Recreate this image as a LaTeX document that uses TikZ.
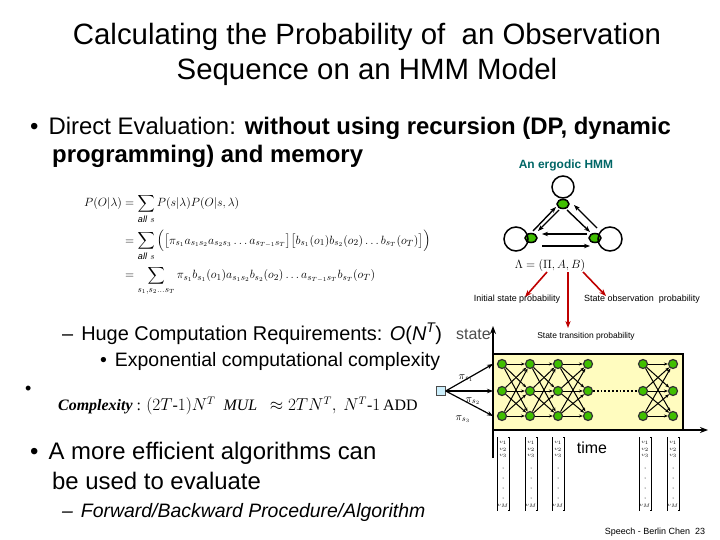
\documentclass[tikz,border=0pt]{standalone}
\usepackage{amsmath}
\usepackage{fontspec}
\setmainfont{Liberation Sans}
\newfontfamily\serf{Liberation Serif}
\usetikzlibrary{arrows.meta,shapes.geometric}
\begin{document}
\begin{tikzpicture}[x=1bp,y=-1bp,
  txt/.style={anchor=west,inner sep=0},
  st/.style={circle,fill=green!50!olive,draw=black!80,line width=1.2pt,minimum size=9bp,inner sep=0},
  hs/.style={ellipse,fill=green!50!olive,draw=black,line width=1.5pt,minimum width=12bp,minimum height=9bp,inner sep=0},
  red/.style={draw=red!75!black,line width=1.6pt,-{Stealth[length=7bp]}},
  tr/.style={line width=1pt,-{Stealth[length=4bp]}},
  small/.style={font=\fontsize{9}{10}\selectfont,inner sep=0}]
\useasboundingbox (0,0) rectangle (720,540);
\fill[white] (0,0) rectangle (720,540);
% title
\node[font=\fontsize{29.5}{32}\selectfont] (t1) at (367,37) {Calculating the Probability of\ \ an Observation};
\node[font=\fontsize{29.5}{32}\selectfont] (t2) at (367,72) {Sequence on an HMM Model};
% bullets
\node[txt,font=\fontsize{24}{26}\selectfont] (b1) at (30,128) {•\hspace{10bp}Direct Evaluation: \textbf{without using recursion (DP, dynamic}};
\node[txt,font=\fontsize{24}{26}\selectfont\bfseries] (b1b) at (52,156) {programming) and memory};
% formulas
\node[txt,font=\serf\fontsize{13}{14}\selectfont] (f) at (84,245) {$\begin{aligned}
P(O|\lambda)&=\sum_{\mathit{all}\ s}P(s|\lambda)P(O|s,\lambda)\\[3pt]
&=\sum_{\mathit{all}\ s}\Big(\big[\pi_{s_1}a_{s_1s_2}a_{s_2s_3}\ldots a_{s_{T-1}s_T}\big]\big[b_{s_1}(o_1)b_{s_2}(o_2)\ldots b_{s_T}(o_T)\big]\Big)\\[2pt]
&=\sum_{s_1,s_2\ldots s_T}\pi_{s_1}b_{s_1}(o_1)a_{s_1s_2}b_{s_2}(o_2)\ldots a_{s_{T-1}s_T}b_{s_T}(o_T)
\end{aligned}$};
% HMM
\node[font=\fontsize{12}{14}\selectfont\bfseries,text=teal!80!black] (erg) at (566,165) {An ergodic HMM};
\node[hs] (A) at (563,204) {};
\node[hs] (L) at (531,238) {};
\node[hs] (R) at (595,238) {};
\draw[line width=1.5pt] (563,187) circle (11);
\draw[line width=1.5pt] (516,239) circle (12);
\draw[line width=1.5pt] (610,239) circle (12);
\draw[line width=1.4pt,-{Stealth[length=6bp]}] (533,231) -- (556,207);
\draw[line width=1.4pt,-{Stealth[length=6bp]}] (559,210) -- (538,231);
\draw[line width=1.4pt,-{Stealth[length=6bp]}] (567,210) -- (590,232);
\draw[line width=1.4pt,-{Stealth[length=6bp]}] (597,228) -- (574,205);
\draw[line width=1.4pt,-{Stealth[length=6bp]}] (587,234) -- (542,234);
\draw[line width=1.4pt,-{Stealth[length=6bp]}] (542,246) -- (590,246);
\node[font=\fontsize{13}{14}\selectfont] (lam) at (550,266) {$\Lambda=(\Pi,A,B)$};
\coordinate (i1) at (525,297); \coordinate (i2) at (568,328); \coordinate (i3) at (606,296);
\draw[red] (547,272) -- (i1);
\draw[red] (568,272) -- (i2);
\draw[red] (583,272) -- (i3);
\node[small,anchor=north] (ip) at (517,295) {Initial state probability};
\node[small,anchor=north] (op) at (642,295) {State observation\ \ probability};
\node[small,font=\fontsize{8.5}{10}\selectfont,anchor=north] (tp) at (586,332) {State transition probability};
% huge computation
\node[txt,font=\fontsize{20}{22}\selectfont] (h1) at (62,334) {–\hspace{8bp}Huge Computation Requirements: \textit{O}(\textit{N}$^{\mathit{T}}$)};
\node[txt,font=\fontsize{19.5}{22}\selectfont] (h2) at (100,361) {•\hspace{8bp}Exponential computational complexity};
\node[txt,font=\fontsize{16}{18}\selectfont,text=black!70] (state) at (456,334) {state};
\node[txt,font=\fontsize{18}{20}\selectfont] (b2) at (25,390) {•};
\node[txt,font=\serf\fontsize{16}{18}\selectfont] (cx) at (58,406) {\textbf{\textit{Complexity}} : $(2T\text{-}1)N^T\ \ \textit{\serf MUL}\ \ \approx 2TN^T,\ N^T\text{-}1\,$ADD};
\node[txt,font=\fontsize{24}{26}\selectfont] (b3) at (30,453) {•\hspace{10bp}A more efficient algorithms can};
\node[txt,font=\fontsize{24}{26}\selectfont] (b3b) at (52,481) {be used to evaluate};
\node[txt,font=\fontsize{19.5}{22}\selectfont\itshape] (b4) at (62,512) {–\hspace{8bp}Forward/Backward Procedure/Algorithm};
\node[font=\fontsize{9}{10}\selectfont] (foot) at (655,532) {Speech - Berlin Chen\ \ 23};
% trellis
\draw[fill=yellow!25,line width=2.2pt] (493,354) rectangle (683,430);
\draw[line width=1.5pt,-{Stealth[length=8bp]}] (493,458) -- (493,326);
\draw[line width=1.5pt,-{Stealth[length=8bp]}] (493,430) -- (708,430);
\foreach \c/\x in {1/502,2/530,3/558,4/588,5/643,6/673}{
  \foreach \r/\y in {1/364,2/391,3/416}{\node[st] (n\c\r) at (\x,\y) {};}}
\foreach \a/\b in {1/2,2/3,3/4,5/6}{
  \foreach \i in {1,2,3}{\foreach \j in {1,2,3}{\draw[tr] (n\a\i) -- (n\b\j);}}}
\draw[line width=1.8pt,dotted] (n42) -- (n52);
\node[draw=black!70,fill=cyan!20,minimum size=9bp,inner sep=0] (s0) at (441,391) {};
\coordinate (e1) at (493,364); \coordinate (e2) at (493,391); \coordinate (e3) at (493,416);
\foreach \r in {1,2,3}{\draw[line width=1.2pt,-{Stealth[length=6bp]}] (s0.east) -- (e\r);}
\node[font=\serf\itshape\fontsize{11}{12}\selectfont] (p1) at (466,378) {$\pi_{s_1}$};
\node[font=\serf\itshape\fontsize{11}{12}\selectfont] (p2) at (473,401) {$\pi_{s_2}$};
\node[font=\serf\itshape\fontsize{11}{12}\selectfont] (p3) at (463,419) {$\pi_{s_3}$};
\foreach \x in {503,531,558,645,673}{
  \draw[line width=0.5pt] (\x-5,437) -- (\x-6,437) -- (\x-6,510) -- (\x-5,510);
  \draw[line width=0.5pt] (\x+5,437) -- (\x+6,437) -- (\x+6,510) -- (\x+5,510);
  \node[font=\fontsize{3.5}{4}\selectfont,inner sep=0] at (\x,443) {$v_1$};
  \node[font=\fontsize{3.5}{4}\selectfont,inner sep=0] at (\x,450) {$v_2$};
  \node[font=\fontsize{3.5}{4}\selectfont,inner sep=0] at (\x,456) {$v_3$};
  \foreach \y in {468,478,488,498}{\fill (\x,\y) circle (0.5);}
  \node[font=\fontsize{3.5}{4}\selectfont,inner sep=0] at (\x,506) {$v_M$};}
\node[font=\fontsize{16}{18}\selectfont] (time) at (592,448) {time};
\end{tikzpicture}
\end{document}
